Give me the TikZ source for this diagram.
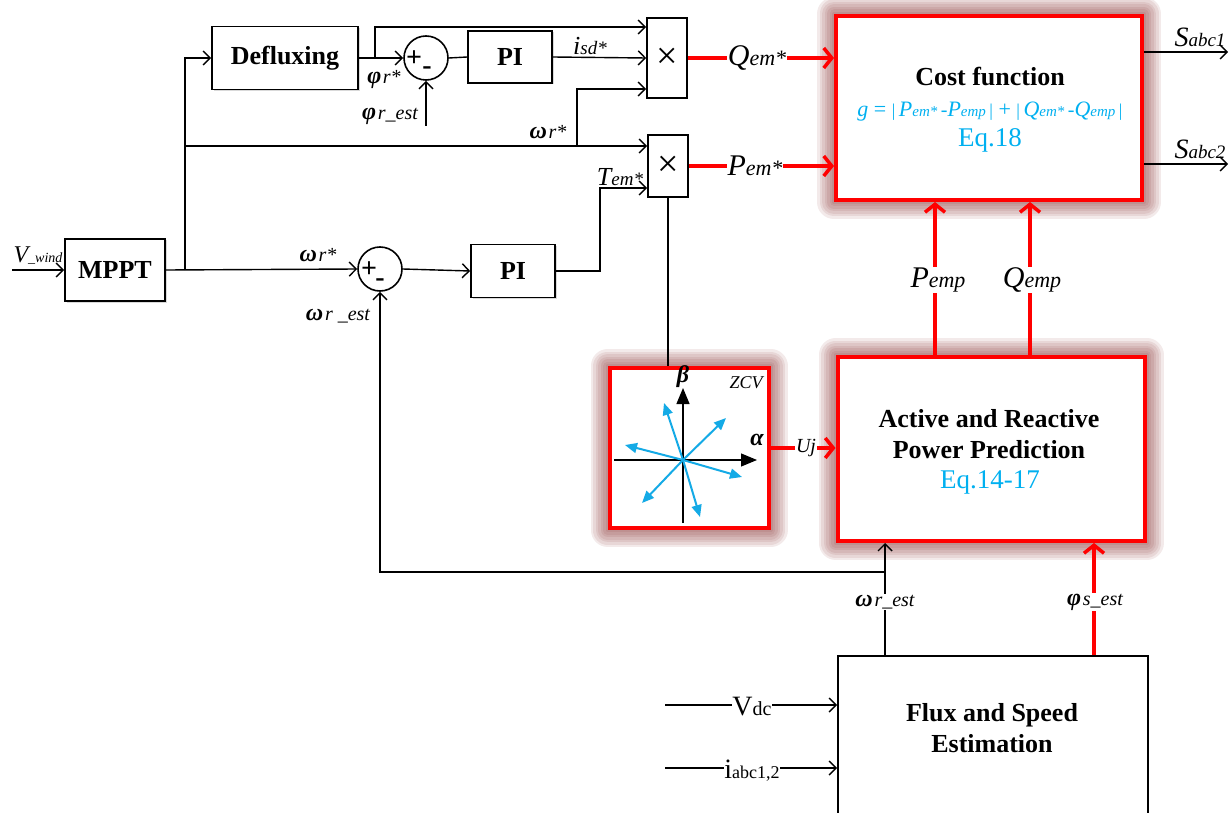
\documentclass[tikz,border=0pt]{standalone}
\usepackage{fontspec}
\setmainfont{Liberation Serif}
\usetikzlibrary{positioning,arrows.meta,shadows,backgrounds,calc}
\definecolor{eqblue}{RGB}{0,176,240}
\definecolor{glowc}{RGB}{120,25,25}
\definecolor{vecblue}{RGB}{20,170,230}
\newcommand{\fsz}[2]{{\fontsize{#1}{#1}\selectfont #2}}

\begin{document}
\begin{tikzpicture}[x=1pt, y=-1pt,
  blk/.style={draw, line width=1.6pt, fill=white, align=center, inner sep=0pt,
              font=\fontsize{26}{31}\selectfont\bfseries,
              drop shadow={shadow xshift=1.5pt, shadow yshift=-1.5pt, opacity=0.3}},
  redblk/.style={draw=red, line width=4pt, fill=white, inner sep=0pt},
  sumc/.style={circle, draw, line width=1.6pt, minimum size=44pt, inner sep=0pt, fill=white},
  mul/.style={draw, line width=1.6pt, minimum width=40pt, inner sep=0pt, fill=white,
              font=\fontsize{38}{38}\selectfont},
  sgn/.style={font=\fontsize{28}{28}\selectfont\bfseries, inner sep=0pt},
  arr/.style={-{Straight Barb[length=7pt,width=14pt]}, line width=1.4pt},
  ln/.style={line width=1.4pt},
  rarr/.style={red, line width=3.5pt, -{Straight Barb[length=8pt,width=20pt]}},
  lbl/.style={inner sep=1pt},
  wlbl/.style={lbl, fill=white},
  vec/.style={vecblue, line width=2pt, -{Triangle[length=12pt,width=10pt]}},
  axis/.style={line width=1.2pt, -{Triangle[length=16pt,width=13pt]}}]
  \useasboundingbox (0,0) rectangle (1229,813);

  % speed and flux references
  \node[blk, minimum width=100pt, minimum height=62pt] (mppt) at (115,270) {MPPT};
  \node[blk, minimum width=146pt, minimum height=63pt] (deflux) at (285,58) {Defluxing};
  \node[sumc] (sum1) at (426,58) {};
  \node[sgn] (sum1p) at (414,59) {+};
  \node[sgn] (sum1m) at (427,71) {-};
  \node[blk, minimum width=84pt, minimum height=52pt] (pi1) at (510,57) {PI};
  \node[sumc] (sum2) at (380,269) {};
  \node[sgn] (sum2p) at (369,270) {+};
  \node[sgn] (sum2m) at (380,283) {-};
  \node[blk, minimum width=84pt, minimum height=53pt] (pi2) at (513,271) {PI};
  \node[mul, minimum height=80pt] (mul1) at (667,58) {×};
  \node[mul, minimum height=62pt] (mul2) at (668,166) {×};

  % predictive part
  \node[redblk, minimum width=306pt, minimum height=184pt] (cost) at (989,108) {};
  \node[font=\fontsize{26}{26}\selectfont\bfseries] (costt) at (990,77) {Cost function};
  \node[text=eqblue] (costg) at (990,112) {\fsz{22}{\itshape g}\fsz{22}{ = }\fsz{18}{|}\fsz{14}{ }\fsz{22}{\itshape P}\fsz{15}{\itshape em*}\fsz{14}{ }\fsz{20}{-}\fsz{22}{\itshape P}\fsz{15}{\itshape emp}\fsz{14}{ }\fsz{18}{|}\fsz{22}{ + }\fsz{18}{|}\fsz{14}{ }\fsz{22}{\itshape Q}\fsz{15}{\itshape em*}\fsz{14}{ }\fsz{20}{-}\fsz{22}{\itshape Q}\fsz{15}{\itshape emp}\fsz{14}{ }\fsz{18}{|}};
  \node[text=eqblue, font=\fontsize{27}{27}\selectfont] (coste) at (990,140) {Eq.18};
  \node[redblk, minimum width=307pt, minimum height=184pt] (app) at (991,449) {};
  \node[font=\fontsize{26}{31}\selectfont\bfseries, align=center] (appt) at (989,434) {Active and Reactive\\Power Prediction};
  \node[text=eqblue, font=\fontsize{27}{27}\selectfont] (appe) at (990,482) {Eq.14-17};
  \node[redblk, minimum width=159pt, minimum height=160pt] (zcv) at (689,448) {};
  \node[blk, minimum width=310pt, minimum height=200pt, anchor=north west] (flux) at (837,655) {};
  \node[font=\fontsize{26}{31}\selectfont\bfseries, align=center] (fluxt) at (992,728) {Flux and Speed\\Estimation};

  \begin{scope}[on background layer]
    \foreach \b in {cost,app,zcv}
      \foreach \w in {34,29,...,4}
        \draw[glowc, line width=\w pt, opacity=0.09, line join=round]
          (\b.south west) rectangle (\b.north east);
  \end{scope}

  % ZCV vectors
  \coordinate (o) at (683,460);
  \draw[axis] (614,460) -- (757,460);
  \draw[axis] (683,523) -- (683,388);
  \foreach \p in {(664,403),(726,418),(625,445),(742,477),(642,503),(700,517)}
    \draw[vec] (o) -- \p;
  \node[font=\fontsize{24}{24}\selectfont\bfseries\itshape] (lbeta) at (683,377) {β};
  \node[font=\fontsize{24}{24}\selectfont\bfseries\itshape] (lalpha) at (757,440) {α};
  \node[font=\fontsize{18}{18}\selectfont\itshape] (lzcv) at (746,383) {ZCV};

  % branch points
  \coordinate (vin) at (12,270);
  \coordinate (b1) at (185,270);
  \coordinate (b2) at ($(deflux.east)+(16,0)$);
  \coordinate (m1a) at ($(mul1.west)+(0,-31)$);
  \coordinate (m1c) at ($(mul1.west)+(0,31)$);
  \coordinate (m2a) at ($(mul2.west)+(0,-20)$);
  \coordinate (m2b) at ($(mul2.west)+(0,22)$);
  \coordinate (b3) at (577,146);
  \coordinate (phin) at ($(sum1.south)+(0,45)$);
  \coordinate (b4) at (885,572);
  \coordinate (pp) at (935,0);
  \coordinate (qq) at (1030,0);
  \coordinate (ps) at (1094,0);
  \coordinate (s1o) at (1228,52);
  \coordinate (s2o) at (1228,164);
  \coordinate (vdcin) at (665,705);
  \coordinate (iin) at (665,768);

  \draw[arr] (vin) -- (mppt.west);
  \draw[arr] (mppt.east) -- (sum2.west);
  \draw[arr] (b1) |- (deflux.west);
  \draw[arr] (b1) |- (m2a);
  \draw[arr] (deflux.east) -- (sum1.west);
  \draw[arr] (b2) |- (m1a);
  \draw[ln] (sum1.east) -- (pi1.west);
  \draw[arr] (pi1.east) -- (mul1.west);
  \draw[arr] (b3) |- (m1c);
  \draw[arr] (phin) -- (sum1.south);
  \draw[arr] (sum2.east) -- (pi2.west);
  \draw[arr] (pi2.east) -- ++(44,0) |- (m2b);
  \draw[ln] (mul2.south) -- (mul2.south |- zcv.north);
  \draw[arr] (s1o -| cost.east) -- (s1o);
  \draw[arr] (s2o -| cost.east) -- (s2o);
  \draw[arr] (b4 |- flux.north) -- (b4 |- app.south);
  \draw[arr] (b4) -| (sum2.south);
  \draw[arr] (vdcin) -- (vdcin -| flux.west);
  \draw[arr] (iin) -- (iin -| flux.west);
  \draw[rarr] (mul1.east) -- (mul1.east -| cost.west);
  \draw[rarr] (mul2.east) -- (mul2.east -| cost.west);
  \draw[rarr] (pp |- app.north) -- (pp |- cost.south);
  \draw[rarr] (qq |- app.north) -- (qq |- cost.south);
  \draw[rarr] (zcv.east) -- (zcv.east -| app.west);
  \draw[rarr] (ps |- flux.north) -- (ps |- app.south);

  % signal labels
  \node[lbl] (lvw) at (38,256) {\fsz{24}{\itshape V}\fsz{14}{\itshape \_wind}};
  \node[lbl] (lw1) at (318,255) {\fsz{24}{\bfseries\itshape ω}\,\fsz{20}{\itshape r*}};
  \node[lbl] (lphi1) at (384,80) {\fsz{24}{\bfseries\itshape φ}\,\fsz{20}{\itshape r*}};
  \node[lbl] (lphi2) at (390,116) {\fsz{24}{\bfseries\itshape φ}\,\fsz{20}{\itshape r\_est}};
  \node[lbl] (lisd) at (590,46) {\fsz{26}{\itshape i}\fsz{19}{\itshape sd*}};
  \node[lbl] (lw2) at (548,132) {\fsz{24}{\bfseries\itshape ω}\,\fsz{20}{\itshape r*}};
  \node[lbl] (ltem) at (620,177) {\fsz{26}{\itshape T}\fsz{19}{\itshape em*}};
  \node[lbl] (lw3) at (338,316) {\fsz{24}{\bfseries\itshape ω}\,\fsz{20}{\itshape r \_est}};
  \node[wlbl] (lq) at (757,58) {\fsz{30}{\itshape Q}\fsz{22}{\itshape em*}};
  \node[wlbl] (lp) at (755,166) {\fsz{30}{\itshape P}\fsz{22}{\itshape em*}};
  \node[lbl] (ls1) at (1200,37) {\fsz{28}{\itshape S}\fsz{19}{\itshape abc1}};
  \node[lbl] (ls2) at (1200,149) {\fsz{28}{\itshape S}\fsz{19}{\itshape abc2}};
  \node[wlbl] (lpemp) at (938,280) {\fsz{30}{\itshape P}\fsz{22}{\itshape emp}};
  \node[wlbl] (lqemp) at (1032,280) {\fsz{30}{\itshape Q}\fsz{22}{\itshape emp}};
  \node[wlbl] (luj) at (806,448) {\fsz{20}{\itshape Uj}};
  \node[wlbl] (lwr) at (885,602) {\fsz{24}{\bfseries\itshape ω}\,\fsz{20}{\itshape r\_est}};
  \node[wlbl] (lps) at (1095,602) {\fsz{24}{\bfseries\itshape φ}\,\fsz{20}{\itshape s\_est}};
  \node[wlbl, inner sep=0pt] (lvdc) at (752,707) {\fsz{28}{V}\fsz{20}{dc}};
  \node[wlbl, inner sep=0pt] (liabc) at (752,771) {\fsz{28}{i}\fsz{18}{abc1,2}};
\end{tikzpicture}
\end{document}
